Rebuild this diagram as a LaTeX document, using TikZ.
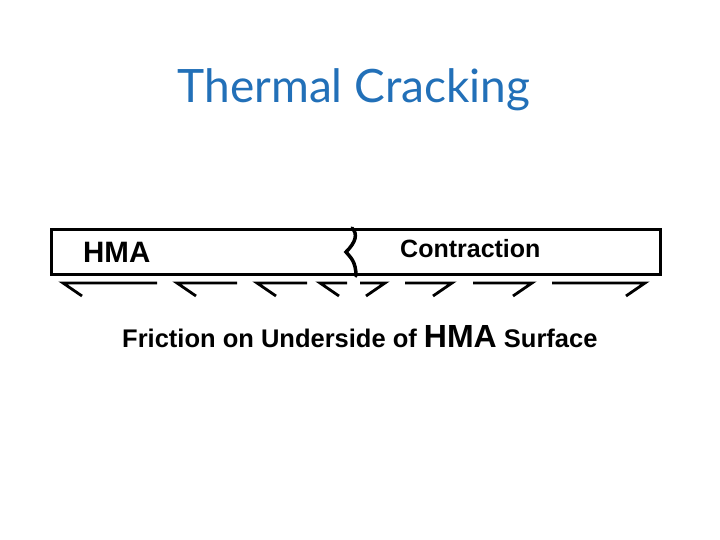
\documentclass[tikz,border=0pt]{standalone}
\usepackage{fontspec}
\setmainfont{Liberation Sans}
\newfontfamily\titlefont{Lato}
\usetikzlibrary{positioning}
\definecolor{ink}{HTML}{000000}
\definecolor{titleblue}{HTML}{2270B8}
\tikzset{
  title text/.style={font=\titlefont\fontsize{46}{46}\selectfont, text=titleblue, inner sep=0pt},
  layer/.style={draw=ink, line width=3pt, minimum width=609pt, minimum height=45pt, inner sep=0pt},
  layer label/.style={font=\bfseries\fontsize{29.5}{29.5}\selectfont, text=ink, inner sep=0pt, anchor=base west},
  move label/.style={font=\bfseries\fontsize{25}{25}\selectfont, text=ink, inner sep=0pt, anchor=base west},
  caption/.style={font=\bfseries\fontsize{25.5}{25.5}\selectfont, text=ink, inner sep=0pt, anchor=base west},
  crack/.style={draw=ink, line width=3.5pt, line cap=round},
  friction/.style={draw=ink, line width=2.8pt}
}

\begin{document}
\begin{tikzpicture}[x=1pt,y=-1pt]
  \path[use as bounding box] (0,0) rectangle (720,540);

  % Title
  \node[title text, anchor=base] (title) at (354,103) {Thermal Cracking};

  % Asphalt layer and its labels
  \node[layer, anchor=north west] (hma) at (50,228) {};
  \node[layer label] (hmalabel) at (83,262) {HMA};
  \node[move label] (contraction) at (400,257) {Contraction};

  % Crack through the layer
  \coordinate (cracktop) at (352,228);
  \coordinate (crackbot) at (356,276);
  \draw[crack] (cracktop) .. controls (358,234) and (356,242) .. (346,252)
    .. controls (350,257) and (356,261) .. (crackbot);

  % Friction marks under the layer: left half pulls one way, right half the other
  \foreach \a/\b in {63/157, 177/237, 257/307, 320/347}
    \draw[friction] (\b,283) -- (\a,283) -- (\a+19,296);
  \foreach \a/\b in {360/385, 405/452, 473/532, 552/645}
    \draw[friction] (\a,283) -- (\b,283) -- (\b-19,296);

  % Caption
  \node[caption] (friction) at (122,347)
    {Friction on Underside of {\fontsize{32}{32}\selectfont HMA} Surface};
\end{tikzpicture}
\end{document}
